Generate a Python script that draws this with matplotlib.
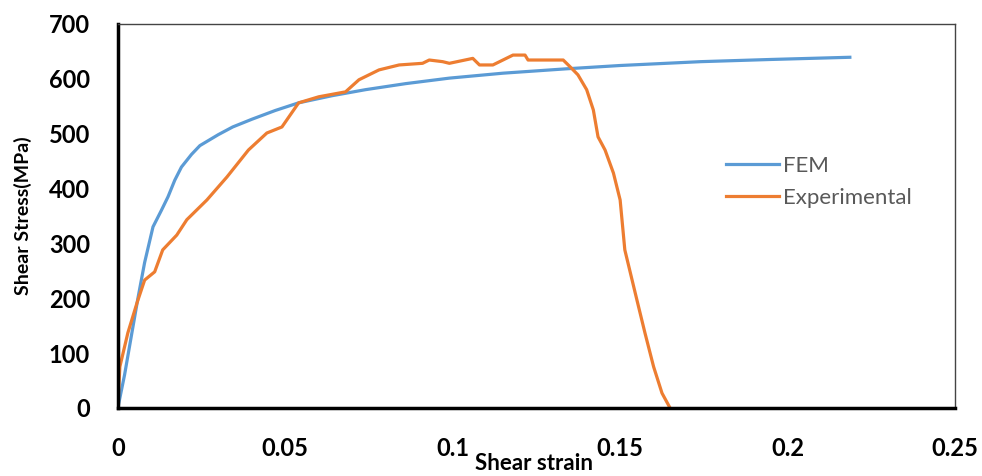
import numpy as np
import matplotlib
matplotlib.use("Agg")
import matplotlib.pyplot as plt

plt.rcParams['font.family'] = ['Lato', 'DejaVu Sans']

# FEM curve (shear strain, shear stress MPa)
fem_strain = [0, 0.002, 0.004, 0.006, 0.008, 0.0105, 0.013, 0.015, 0.017, 0.019,
              0.022, 0.0245, 0.03, 0.0343, 0.04, 0.047, 0.054, 0.064, 0.074,
              0.086, 0.099, 0.115, 0.134, 0.15, 0.174, 0.195, 0.2186]
fem_stress = [0, 60, 130, 200, 265, 330, 360, 385, 415, 439,
              462, 478, 498, 512, 526, 542, 556, 569, 580,
              591, 601, 610, 618, 624, 631, 635, 639]

# experimental curve
exp_strain = [0, 0.0006, 0.003, 0.0057, 0.008, 0.011, 0.0134, 0.0176, 0.0206,
              0.0266, 0.0326, 0.039, 0.0445, 0.049, 0.054, 0.060, 0.068, 0.072,
              0.078, 0.084, 0.091, 0.093, 0.097, 0.099, 0.106, 0.108, 0.112,
              0.114, 0.118, 0.1216, 0.1225, 0.133, 0.135, 0.1374, 0.140, 0.142,
              0.1434, 0.1455, 0.148, 0.150, 0.1514, 0.155, 0.1574, 0.160,
              0.1625, 0.1649]
exp_stress = [0, 75, 137, 191, 233, 248, 288, 315, 343,
              379, 421, 470, 501, 512, 556, 567, 576, 598,
              616, 625, 628, 634, 631, 628, 637, 625, 625,
              631, 643, 643, 634, 634, 622, 607, 580, 543,
              494, 470, 428, 379, 288, 197, 137, 75,
              27, 0]

fig = plt.figure(figsize=(9.82, 4.76), dpi=100)
ax = fig.add_axes([0.120, 0.143, 0.8525, 0.807])

ax.plot(fem_strain, fem_stress, color='#5B9BD5', lw=2.3, label='FEM')
ax.plot(exp_strain, exp_stress, color='#ED7D31', lw=2.3, label='Experimental')

ax.set_xlim(0, 0.25)
ax.set_ylim(0, 700)
ax.set_xticks([0, 0.05, 0.1, 0.15, 0.2, 0.25])
ax.set_xticklabels(['0', '0.05', '0.1', '0.15', '0.2', '0.25'])
ax.set_yticks(range(0, 701, 100))
ax.tick_params(axis='y', length=0, labelsize=17, pad=20)
ax.tick_params(axis='x', length=0, labelsize=17, pad=21)
for lab in ax.get_xticklabels() + ax.get_yticklabels():
    lab.set_fontweight('bold')

ax.spines['left'].set_linewidth(2.5)
ax.spines['bottom'].set_linewidth(2.5)
ax.spines['top'].set_linewidth(1)
ax.spines['right'].set_linewidth(1)
ax.spines['top'].set_color('#444444')
ax.spines['right'].set_color('#444444')

ax.set_xlabel('Shear strain', fontsize=16, fontweight='bold', va='center')
ax.xaxis.set_label_coords(0.497, -0.145)
ax.set_ylabel('Shear Stress(MPa)', fontsize=14, fontweight='bold', va='center')
ax.yaxis.set_label_coords(-0.113, 0.5)

leg = ax.legend(loc='upper left', bbox_to_anchor=(0.726, 0.656), frameon=False,
                fontsize=16, handlelength=2.4, handletextpad=0.2, labelspacing=0.55,
                borderpad=0, borderaxespad=0)
for t in leg.get_texts():
    t.set_color('#595959')

fig.savefig('out.png', dpi=100)
